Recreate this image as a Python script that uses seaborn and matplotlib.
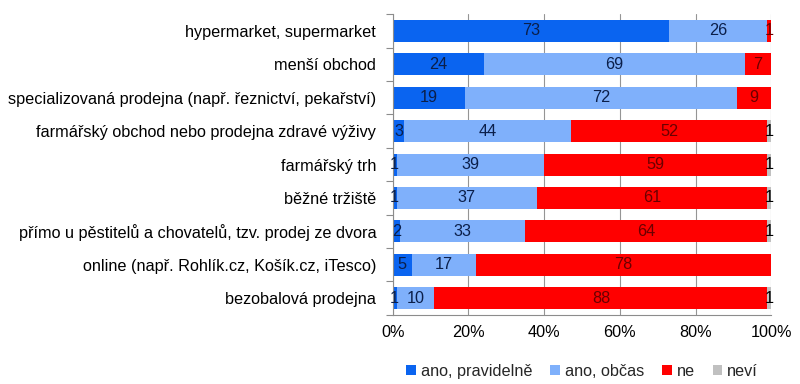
import numpy as np
import pandas as pd
import seaborn as sns
import matplotlib
matplotlib.use('Agg')
import matplotlib.pyplot as plt
from matplotlib.ticker import FixedLocator, PercentFormatter

# data (percent of respondents)
places = [
    "hypermarket, supermarket",
    "menší obchod",
    "specializovaná prodejna (např. řeznictví, pekařství)",
    "farmářský obchod nebo prodejna zdravé výživy",
    "farmářský trh",
    "běžné tržiště",
    "přímo u pěstitelů a chovatelů, tzv. prodej ze dvora",
    "online (např. Rohlík.cz, Košík.cz, iTesco)",
    "bezobalová prodejna",
]
regularly = [73, 24, 19, 3, 1, 1, 2, 5, 1]
sometimes = [26, 69, 72, 44, 39, 37, 33, 17, 10]
no = [1, 7, 9, 52, 59, 61, 64, 78, 88]
dont_know = [0, 0, 0, 1, 1, 1, 1, 0, 1]

series_names = ["ano, pravidelně", "ano, občas", "ne", "neví"]
colors = ["#0a64f0", "#7fb0fb", "#ff0000", "#c0c0c0"]
label_colors = ["#0b1f4a", "#0b1f4a", "#6a0000", "#000000"]

df = pd.DataFrame({"place": places,
                   series_names[0]: regularly,
                   series_names[1]: sometimes,
                   series_names[2]: no,
                   series_names[3]: dont_know})

vals = df[series_names].to_numpy(dtype=float)
cum = np.cumsum(vals, axis=1)

sns.set_style("white")
plt.rcParams['font.family'] = ['Liberation Sans', 'DejaVu Sans']
FS = 11.7

fig = plt.figure(figsize=(8, 3.84), dpi=100)
ax = fig.add_axes([0.491, 0.18, 0.473, 0.783])

# stacked bars: draw cumulative totals from the back to the front
for i in range(len(series_names) - 1, -1, -1):
    sns.barplot(x=cum[:, i], y=df["place"], orient="h", color=colors[i],
                width=0.66, saturation=1, linewidth=0, ax=ax,
                label=series_names[i])

# segment labels
for r in range(len(places)):
    for i in range(len(series_names)):
        v = vals[r, i]
        if v <= 0:
            continue
        x = cum[r, i] - v / 2
        ax.text(x, r, f"{v:.0f}", ha="center", va="center",
                fontsize=FS, color=label_colors[i])

ax.set_xlim(0, 100)
ax.set_ylim(len(places) - 0.5, -0.5)
ax.xaxis.set_major_locator(FixedLocator([0, 20, 40, 60, 80, 100]))
ax.xaxis.set_major_formatter(PercentFormatter(100, decimals=0))
ax.grid(axis="x", color="#959595", linewidth=0.8)
ax.set_axisbelow(True)
ax.set_xlabel("")
ax.set_ylabel("")

for s in ["top", "right"]:
    ax.spines[s].set_visible(False)
for s in ["left", "bottom"]:
    ax.spines[s].set_color("#8c8c8c")
    ax.spines[s].set_linewidth(0.8)

# category boundary ticks on y axis
ax.yaxis.set_minor_locator(FixedLocator(np.arange(-0.5, len(places), 1)))
ax.tick_params(axis="y", which="minor", length=5, color="#8c8c8c", width=0.8, left=True)
ax.tick_params(axis="y", which="major", length=0, pad=12, labelsize=FS, labelcolor="#000000")
ax.tick_params(axis="x", which="major", length=0, pad=7, labelsize=FS, labelcolor="#000000")

# legend in series order
handles, labels = ax.get_legend_handles_labels()
order = [labels.index(n) for n in series_names]
ax.legend([handles[k] for k in order], series_names, loc="center",
          bbox_to_anchor=(0.5, -0.187), ncol=4, frameon=False,
          fontsize=FS, handlelength=0.6, handleheight=0.6,
          handletextpad=0.3, columnspacing=1.1)

fig.savefig("out.png", dpi=100)
